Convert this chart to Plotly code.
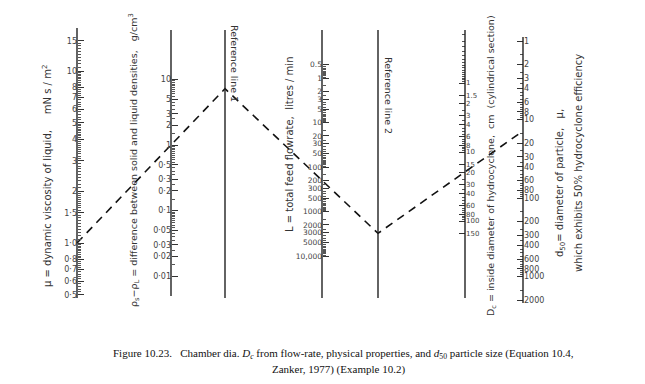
import numpy as np
import plotly.graph_objects as go

# ---------------- data: scale tick values and labels ----------------
MU_TICKS = [15, 10, 8, 7, 6, 5, 4, 3, 2, 1.5, 1.0, 0.8, 0.7, 0.6, 0.5]
MU_LABELS = ["15", "10", "8", "7", "6", "5", "4", "3", "2", "1·5", "1·0", "0·8", "0·7", "0·6", "0·5"]

RHO_TICKS = [10, 5, 3, 2, 1, 0.5, 0.3, 0.2, 0.1, 0.05, 0.03, 0.02, 0.01]
RHO_LABELS = ["10", "5", "3", "2", "1", "0·5", "0·3", "0·2", "0·1", "0·05", "0·03", "0·02", "0·01"]

L_TICKS = [0.5, 1, 2, 3, 5, 10, 20, 30, 50, 100, 200, 300, 500, 1000, 2000, 3000, 5000, 10000]
L_LABELS = ["0.5", "1", "2", "3", "5", "10", "20", "30", "50", "100", "200", "300", "500",
            "1000", "2000", "3000", "5000", "10,000"]

DC_TICKS = [1, 1.5, 2, 3, 4, 6, 8, 10, 15, 20, 30, 40, 60, 80, 100, 150]
DC_LABELS = ["1", "1.5", "2", "3", "4", "6", "8", "10", "15", "20", "30", "40", "60", "80", "100", "150"]

D50_TICKS = [1, 2, 3, 4, 6, 8, 10, 20, 30, 40, 60, 80, 100, 200, 300, 400, 600, 800, 1000, 2000]
D50_LABELS = [str(v) for v in D50_TICKS]

# worked example (Example 10.2)
EX_MU = 1.0
EX_DRHO = 1.0
EX_L = 200
EX_D50 = 14

# ---------------- layout geometry (pixel space) ----------------
W, H = 645, 384
# per scale: x position, pixel y of value 1, pixels per decade (+ = downward)
GEOM = {
    "mu":  dict(x=77,  a=243, s=-172, side="left",  y0=28, y1=298, fs=8),
    "rho": dict(x=171, a=145, s=-65.6, side="left", y0=30, y1=296, fs=8),
    "L":   dict(x=322, a=78,  s=44.5, side="left",  y0=30, y1=298, fs=7.5),
    "dc":  dict(x=465, a=83,  s=69,   side="right", y0=30, y1=298, fs=7),
    "d50": dict(x=523, a=41,  s=78.5, side="right", y0=37, y1=303, fs=8),
}
REF1_X, REF2_X = 225, 378
REF_Y0, REF_Y1 = 30, 298


def pos(key, v):
    g = GEOM[key]
    return g["a"] + g["s"] * np.log10(v)


def log_range(key):
    g = GEOM[key]
    return [(H - g["a"]) / g["s"], -g["a"] / g["s"]]


def decades(lo, hi, bases):
    out = []
    for b in bases:
        for m in np.arange(1, 10, 0.5):
            v = round(b * m, 6)
            if lo <= v <= hi:
                out.append(v)
    return out


MINOR = {
    "mu": list(np.round(np.concatenate([np.arange(0.5, 1.0, 0.02), np.arange(1.0, 2.0, 0.05),
                                        np.arange(2, 5, 0.1), np.arange(5, 10, 0.2),
                                        np.arange(10, 15.01, 0.5)]), 4)),
    "rho": decades(0.01, 10, [0.01, 0.1, 1, 10]),
    "L": decades(0.5, 10000, [0.1, 1, 10, 100, 1000, 10000]),
    "dc": list(np.round(np.arange(0.2, 1.0, 0.05), 3)) + decades(1, 160, [1, 10, 100]),
    "d50": decades(1, 2000, [1, 10, 100, 1000]),
}

TICKS = {
    "mu": (MU_TICKS, MU_LABELS),
    "rho": (RHO_TICKS, RHO_LABELS),
    "L": (L_TICKS, L_LABELS),
    "dc": (DC_TICKS, DC_LABELS),
    "d50": (D50_TICKS, D50_LABELS),
}

fig = go.Figure()
layout_axes = {}

for i, key in enumerate(["mu", "rho", "L", "dc", "d50"], start=2):
    g = GEOM[key]
    vals, labels = TICKS[key]
    layout_axes[f"yaxis{i}"] = dict(
        type="log", range=log_range(key), overlaying="y", anchor="free",
        position=g["x"] / W, side=g["side"],
        tickmode="array", tickvals=vals, ticktext=labels,
        ticks="inside", ticklen=6, tickwidth=1, tickcolor="#333",
        showgrid=False, zeroline=False, showline=False,
        tickfont=dict(family="DejaVu Sans", size=g["fs"], color="#444"),
        minor=dict(tickmode="array", tickvals=MINOR[key], ticks="inside",
                   ticklen=3, tickwidth=1, tickcolor="#555", showgrid=False),
    )
    fig.add_trace(go.Scatter(x=[None], y=[None], yaxis=f"y{i}", showlegend=False,
                             hoverinfo="skip"))

# axis lines and reference lines
shapes = []
for key, g in GEOM.items():
    shapes.append(dict(type="line", xref="x", yref="y", x0=g["x"], x1=g["x"],
                       y0=g["y0"], y1=g["y1"], line=dict(color="#222", width=1.4)))
for rx in (REF1_X, REF2_X):
    shapes.append(dict(type="line", xref="x", yref="y", x0=rx, x1=rx,
                       y0=REF_Y0, y1=REF_Y1, line=dict(color="#222", width=1.4)))

# dashed key line through the nomograph
p_mu = (GEOM["mu"]["x"], pos("mu", EX_MU))
p_rho = (GEOM["rho"]["x"], pos("rho", EX_DRHO))
r1_y = p_mu[1] + (p_rho[1] - p_mu[1]) * (REF1_X - p_mu[0]) / (p_rho[0] - p_mu[0])
p_L = (GEOM["L"]["x"], pos("L", EX_L))
r2_y = r1_y + (p_L[1] - r1_y) * (REF2_X - REF1_X) / (p_L[0] - REF1_X)
p_d50 = (GEOM["d50"]["x"], pos("d50", EX_D50))

fig.add_trace(go.Scatter(
    x=[p_mu[0], REF1_X, REF2_X, p_d50[0]],
    y=[p_mu[1], r1_y, r2_y, p_d50[1]],
    mode="lines", line=dict(color="#111", width=1.6, dash="8px,6px"),
    showlegend=False, hoverinfo="skip"))

# axis titles
tfont = dict(family="DejaVu Sans", size=10, color="#333")
tfont_s = dict(family="DejaVu Sans", size=9.5, color="#333")
annots = [
    dict(x=47, y=176, text="μ = dynamic viscosity of liquid,\u00a0\u00a0\u00a0\u00a0 mN s / m<sup>2</sup>",
         textangle=-90, font=tfont),
    dict(x=134, y=160, text="ρ<sub>s</sub>−ρ<sub>L</sub> = difference between solid and liquid densities,\u00a0\u00a0 g/cm<sup>3</sup>",
         textangle=-90, font=tfont_s),
    dict(x=289, y=145, text="L = total feed flowrate,\u00a0 litres / min", textangle=-90, font=tfont),
    dict(x=491, y=166, text="D<sub>c</sub> = inside diameter of hydrocyclone,\u00a0 cm\u00a0 (cylindrical section)",
         textangle=-90, font=tfont_s),
    dict(x=560, y=183, text="d<sub>50</sub>= diameter of particle,\u00a0\u00a0 μ,", textangle=-90, font=tfont),
    dict(x=578, y=163, text="which exhibits 50% hydrocyclone efficiency", textangle=-90, font=tfont),
    dict(x=235, y=63, text="Reference line 1", textangle=90, font=tfont_s),
    dict(x=389, y=95, text="Reference line 2", textangle=90, font=tfont_s),
]
ann_list = []
for a in annots:
    ann_list.append(dict(xref="x", yref="y", showarrow=False,
                         xanchor="center", yanchor="middle", **a))

cfont = dict(family="Liberation Serif, Times New Roman, serif", size=11, color="#111")
ann_list.append(dict(xref="x", yref="y", x=343, y=354, showarrow=False, font=cfont,
                     text="Figure 10.23.\u00a0\u00a0 Chamber dia. <i>D<sub>c</sub></i> from flow-rate, physical properties, and <i>d</i><sub>50</sub> particle size (Equation 10.4,"))
ann_list.append(dict(xref="x", yref="y", x=338, y=369, showarrow=False, font=cfont,
                     text="Zanker, 1977) (Example 10.2)"))

fig.update_layout(
    width=W, height=H, margin=dict(l=0, r=0, t=0, b=0, pad=0),
    paper_bgcolor="white", plot_bgcolor="white", showlegend=False,
    xaxis=dict(range=[0, W], visible=False, fixedrange=True),
    yaxis=dict(range=[H, 0], visible=False, fixedrange=True),
    shapes=shapes, annotations=ann_list,
    **layout_axes,
)

fig.write_html("out.html", config={"displayModeBar": False},
               post_script="document.body.style.margin='0';document.body.style.overflow='hidden';")
